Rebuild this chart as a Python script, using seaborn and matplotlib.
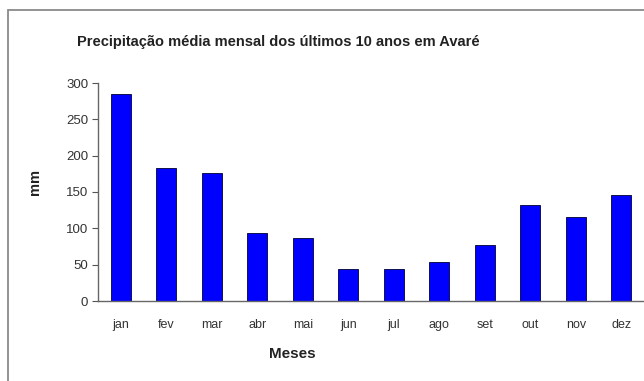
import matplotlib
matplotlib.use("Agg")
import matplotlib.pyplot as plt
import seaborn as sns
import pandas as pd
from matplotlib.patches import Rectangle

months = ["jan", "fev", "mar", "abr", "mai", "jun", "jul", "ago", "set", "out", "nov", "dez"]
precip = [285, 183, 176, 94, 87, 44, 44, 54, 77, 132, 115, 146]
yticks = [0, 50, 100, 150, 200, 250, 300]
title = "Precipitação média mensal dos últimos 10 anos em Avaré"

sns.set_style("white")
plt.rcParams['font.family'] = ['Liberation Sans', 'DejaVu Sans']

df = pd.DataFrame({"mes": months, "mm": precip})

fig = plt.figure(figsize=(6.44, 3.81), dpi=100)
fig.patch.set_facecolor("white")

# outer frame of the embedded chart (cut off on right and bottom)
fig.patches.append(Rectangle((8/644, -0.1), 1.2, 1 - 10.5/381 + 0.1, transform=fig.transFigure,
                             fill=False, edgecolor="#8a8a8a", linewidth=1.3))

ax = fig.add_axes([98/644, 80/381, 546/644, 218/381])
sns.barplot(data=df, x="mes", y="mm", color="#0000FF", width=0.44,
            edgecolor="#000033", linewidth=0.6, saturation=1, ax=ax)

ax.set_xlim(-0.5, len(months) - 0.5)
ax.set_ylim(0, 300)
ax.set_yticks(yticks)
ax.set_yticklabels([str(t) for t in yticks], fontsize=9.5, color="#333333")
ax.set_xticks(range(len(months)))
ax.set_xticklabels(months, fontsize=9, color="#333333")
ax.set_xticks([i - 0.5 for i in range(len(months) + 1)], minor=True)
ax.tick_params(axis="x", which="major", length=0, pad=13)
ax.tick_params(axis="x", which="minor", length=4, width=0.8, color="#555555", direction="out")
ax.tick_params(axis="y", length=4, width=0.8, color="#555555", direction="out", pad=3, left=True)
ax.set_xlabel("")
ax.set_ylabel("")
for s in ["top", "right"]:
    ax.spines[s].set_visible(False)
for s in ["left", "bottom"]:
    ax.spines[s].set_color("#666666")
    ax.spines[s].set_linewidth(1.0)

fig.text(278/644, 1 - 42/381, title, ha="center", va="center", fontsize=10.5,
         fontweight="bold", color="#222222")
fig.text(35/644, 1 - 182/381, "mm", rotation=90, ha="center", va="center",
         fontsize=10.5, fontweight="bold", color="#222222")
fig.text(292/644, 1 - 354/381, "Meses", ha="center", va="center",
         fontsize=11, fontweight="bold", color="#222222")

fig.savefig("out.png", dpi=100, facecolor="white")
